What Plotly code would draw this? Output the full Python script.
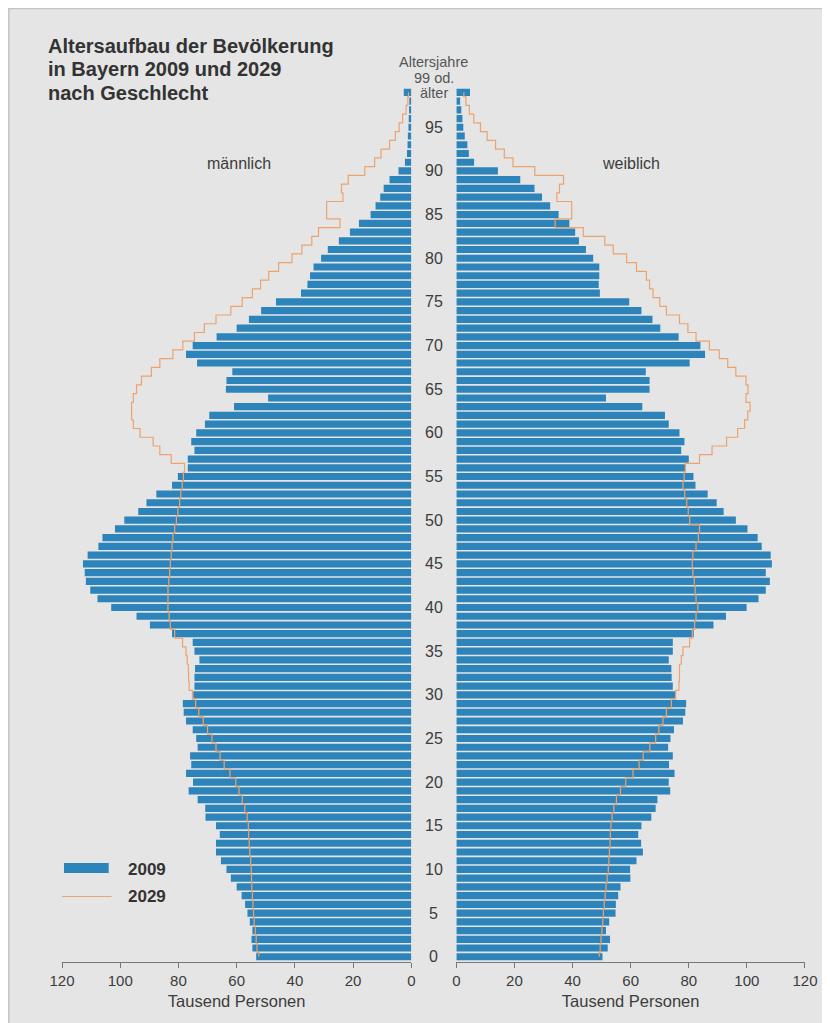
import plotly.graph_objects as go

# ---------------- data (thousand persons, ages 0 .. 99+) ----------------
AGES = list(range(0, 100))

MALE_2009 = [
    53.3, 54.6, 54.9, 54.6, 55.5, 56.3, 57.1, 58.3, 60.0, 62.0,
    63.5, 65.4, 67.1, 67.1, 65.8, 67.1, 70.7, 70.8, 73.4, 76.5,
    75.0, 77.4, 75.6, 76.0, 73.4, 73.9, 75.1, 77.4, 78.2, 78.5,
    74.9, 74.5, 74.5, 74.3, 72.8, 74.5, 75.1, 82.2, 89.8, 94.4,
    103.1, 107.8, 110.3, 111.8, 112.2, 112.8, 111.2, 107.5, 106.1, 101.8,
    98.6, 93.8, 91.0, 87.6, 82.2, 80.2, 76.8, 76.8, 74.5, 75.6,
    73.9, 70.9, 69.4, 60.9, 49.2, 63.7, 63.5, 61.5, 73.6, 77.4,
    75.1, 66.9, 60.0, 55.8, 51.6, 46.5, 37.9, 35.7, 34.8, 33.6,
    31.0, 28.7, 24.9, 21.1, 18.0, 14.0, 12.3, 10.7, 9.5, 7.5,
    4.4, 2.2, 1.5, 1.3, 1.2, 1.0, 0.9, 0.8, 0.7, 2.6,
]

MALE_2029 = [
    52.4, 53.0, 53.3, 53.6, 54.0, 54.2, 54.4, 54.6, 54.8, 54.9,
    55.0, 55.2, 55.5, 55.7, 55.9, 56.0, 56.4, 57.2, 58.1, 59.2,
    60.3, 62.3, 64.3, 65.7, 67.1, 68.5, 70.0, 71.5, 73.0, 74.1,
    75.2, 76.3, 76.5, 76.6, 77.0, 77.4, 78.6, 81.3, 82.8, 83.2,
    83.6, 83.6, 83.6, 83.3, 83.0, 82.8, 82.5, 82.2, 81.9, 81.3,
    80.7, 80.2, 79.6, 79.2, 78.7, 78.3, 77.9, 82.5, 86.4, 88.7,
    93.2, 95.5, 96.1, 96.1, 95.5, 94.4, 92.7, 89.3, 86.4, 81.9,
    78.5, 74.5, 71.1, 67.1, 62.0, 58.1, 54.6, 51.8, 49.0, 45.6,
    41.0, 37.6, 34.2, 31.9, 24.5, 29.1, 29.1, 23.5, 24.0, 21.7,
    16.0, 12.6, 10.4, 7.5, 5.5, 4.2, 3.0, 1.8, 1.2, 1.0,
]

FEMALE_2009 = [
    50.3, 52.1, 52.9, 51.5, 52.6, 54.8, 54.9, 55.7, 56.5, 59.9,
    59.8, 62.0, 64.2, 63.6, 62.6, 63.7, 67.1, 68.6, 69.2, 73.6,
    73.1, 75.1, 73.2, 74.5, 72.9, 73.7, 74.9, 78.0, 78.8, 79.1,
    75.5, 74.5, 74.1, 74.0, 73.1, 74.5, 74.5, 81.7, 88.5, 92.8,
    99.9, 104.0, 106.5, 107.9, 106.5, 108.6, 108.2, 105.1, 103.7, 100.2,
    96.2, 92.0, 89.6, 86.5, 82.3, 81.6, 78.9, 80.0, 77.4, 78.5,
    76.8, 73.1, 71.8, 64.0, 51.5, 66.5, 66.5, 65.2, 80.3, 85.6,
    84.0, 76.5, 70.2, 67.5, 63.7, 59.5, 49.4, 49.0, 49.2, 49.2,
    47.1, 44.6, 42.2, 40.9, 38.9, 35.2, 32.3, 29.5, 26.9, 22.0,
    14.3, 6.1, 4.3, 3.8, 2.9, 2.4, 2.1, 1.7, 1.3, 4.7,
]

FEMALE_2029 = [
    49.2, 49.5, 49.8, 50.1, 50.4, 50.6, 50.9, 51.2, 51.5, 51.9,
    52.3, 52.5, 52.7, 52.9, 53.0, 53.2, 53.6, 54.2, 55.1, 56.5,
    58.3, 60.8, 62.9, 64.3, 66.6, 68.6, 69.7, 71.1, 72.3, 74.0,
    75.5, 76.6, 76.8, 76.8, 77.4, 78.0, 80.3, 81.2, 82.0, 82.5,
    83.1, 82.5, 82.2, 81.9, 81.4, 81.2, 81.4, 82.5, 83.3, 83.7,
    80.3, 79.8, 79.3, 78.6, 78.0, 78.4, 78.8, 83.7, 88.0, 93.0,
    96.8, 99.2, 100.3, 101.1, 99.7, 100.4, 99.7, 96.2, 93.4, 90.5,
    87.1, 82.5, 79.7, 76.8, 72.3, 70.0, 67.7, 66.5, 65.4, 62.0,
    58.6, 54.0, 51.1, 43.7, 34.0, 39.7, 39.7, 34.6, 35.5, 36.9,
    27.0, 19.5, 16.5, 13.5, 10.6, 8.3, 6.0, 4.5, 3.3, 2.6,
]

AGE_TICKS = list(range(0, 100, 5))
X_TICKS = [0, 20, 40, 60, 80, 100, 120]

TITLE_LINES = ["Altersaufbau der Bevölkerung", "in Bayern 2009 und 2029", "nach Geschlecht"]
TOP_LABEL_LINES = ["Altersjahre", "99 od.", "älter"]
AXIS_TITLE = "Tausend Personen"
SIDE_LABELS = ["männlich", "weiblich"]
SERIES = ["2009", "2029"]

# ---------------- styling ----------------
OFF = 8                      # page body margin
W, H = 830 - OFF, 1023 - OFF
ML, MR, MT, MB = 54, 20, 80, 61
PW = W - ML - MR
PH = H - MT - MB
BG = "#e5e5e5"
BAR = "#2c84ba"
LINE = "#eba36f"
TXT = "#3c3c3c"
FONT = "Liberation Sans, Arial, Helvetica, sans-serif"


def px(xr):
    return (xr - OFF - ML) / PW


def py(yr):
    return (H - MB - (yr - OFF)) / PH


fig = go.Figure()
fig.add_trace(go.Bar(x=MALE_2009, y=AGES, orientation="h", xaxis="x", yaxis="y",
                     marker=dict(color=BAR, line=dict(width=0)), name=SERIES[0],
                     showlegend=False))
fig.add_trace(go.Bar(x=FEMALE_2009, y=AGES, orientation="h", xaxis="x2", yaxis="y",
                     marker=dict(color=BAR, line=dict(width=0)), name=SERIES[0],
                     showlegend=False))
fig.add_trace(go.Scatter(x=MALE_2029, y=AGES, mode="lines", xaxis="x", yaxis="y",
                         line=dict(color=LINE, width=1.2, shape="vhv"), name=SERIES[1],
                         showlegend=False))
fig.add_trace(go.Scatter(x=FEMALE_2029, y=AGES, mode="lines", xaxis="x2", yaxis="y",
                         line=dict(color=LINE, width=1.2, shape="vhv"), name=SERIES[1],
                         showlegend=False))

axis_common = dict(
    tickvals=X_TICKS, ticks="outside", ticklen=5, tickcolor="#777",
    showline=True, linecolor="#777", linewidth=1, showgrid=False, zeroline=False,
    tickfont=dict(size=15, color=TXT, family=FONT),
    title=dict(text=AXIS_TITLE, font=dict(size=16.5, color=TXT, family=FONT), standoff=7),
    anchor="y", fixedrange=True,
)

fig.update_layout(
    width=W, height=H, autosize=False,
    margin=dict(l=ML, r=MR, t=MT, b=MB, pad=0),
    paper_bgcolor=BG, plot_bgcolor=BG,
    bargap=0.18,
    font=dict(family=FONT, color=TXT),
    xaxis=dict(domain=[0, px(413.7)], range=[120, 0], **axis_common),
    xaxis2=dict(domain=[px(459), 1.0], range=[0, 120], **axis_common),
    yaxis=dict(range=[-0.6, 99.5], showticklabels=False, showgrid=False,
               zeroline=False, showline=False, ticks="", fixedrange=True),
    showlegend=False,
)

ann = []
for text, yy in zip(TITLE_LINES, [45.5, 69.5, 93.5]):
    ann.append(dict(text="<b>%s</b>" % text, xref="paper", yref="paper",
                    x=px(46), y=py(yy), xanchor="left", yanchor="middle",
                    align="left", showarrow=False,
                    font=dict(size=20, color="#333", family=FONT)))
for text, yy in zip(TOP_LABEL_LINES, [62, 78, 93.5]):
    ann.append(dict(text=text, xref="paper", yref="paper", x=px(436), y=py(yy),
                    xanchor="center", yanchor="middle", showarrow=False,
                    font=dict(size=14.5, color="#555", family=FONT)))
for text, xx in zip(SIDE_LABELS, [240, 635]):
    ann.append(dict(text=text, xref="paper", yref="paper", x=px(xx), y=py(163),
                    xanchor="center", yanchor="middle", showarrow=False,
                    font=dict(size=16, color=TXT, family=FONT)))
for a in AGE_TICKS:
    ann.append(dict(text=str(a), xref="paper", yref="y", x=px(436), y=a,
                    xanchor="center", yanchor="middle", showarrow=False,
                    font=dict(size=16, color=TXT, family=FONT)))
for text, yy in zip(SERIES, [869, 896]):
    ann.append(dict(text="<b>%s</b>" % text, xref="paper", yref="paper",
                    x=px(126), y=py(yy), xanchor="left", yanchor="middle",
                    showarrow=False, font=dict(size=17, color="#333", family=FONT)))
fig.update_layout(annotations=ann)

shapes = [
    dict(type="rect", xref="paper", yref="paper", x0=px(64), x1=px(109),
         y0=py(873), y1=py(863), fillcolor=BAR, line=dict(width=0)),
    dict(type="line", xref="paper", yref="paper", x0=px(62), x1=px(112),
         y0=py(896.5), y1=py(896.5), line=dict(color=LINE, width=1.2)),
    dict(type="line", xref="paper", yref="paper", x0=px(8), x1=px(830),
         y0=py(8.5), y1=py(8.5), line=dict(color="#c4c4c4", width=1.5)),
    dict(type="line", xref="paper", yref="paper", x0=px(8.5), x1=px(8.5),
         y0=py(8), y1=py(1023), line=dict(color="#c4c4c4", width=1.5)),
]
fig.update_layout(shapes=shapes)

fig.write_html("out.html")
